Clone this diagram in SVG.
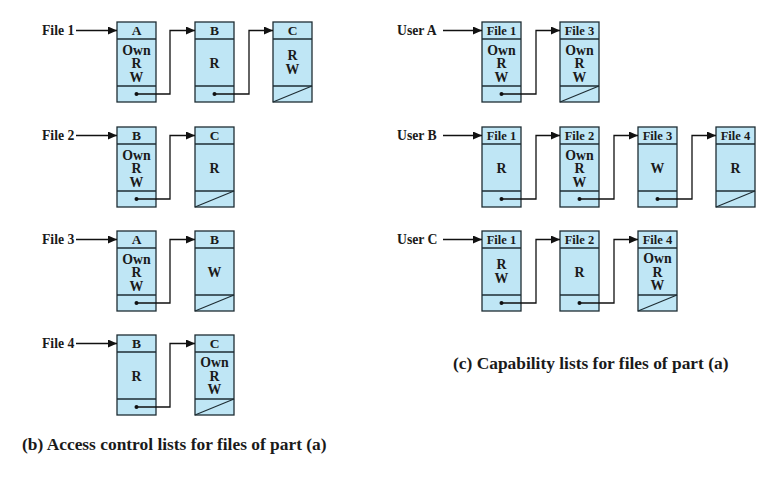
<svg xmlns="http://www.w3.org/2000/svg" width="783" height="480" viewBox="0 0 783 480">
<style>
text{font-family:"Liberation Serif","Times New Roman",serif;font-weight:bold;fill:#1a1a1a}
.b{fill:#bfe6f5;stroke:#1e2d33;stroke-width:1.3}
.s{fill:none;stroke:#1e2d33;stroke-width:1.3}
.c{fill:none;stroke:#111;stroke-width:1.3}
.t{font-size:13.8px;text-anchor:middle}
.h{font-size:13.5px;text-anchor:middle}
.hf{font-size:12.5px;text-anchor:middle}
.l{font-size:13.7px}
.cap{font-size:17.4px}
.d{fill:#111}
</style>
<defs>
<marker id="ah" markerUnits="userSpaceOnUse" markerWidth="10" markerHeight="8" refX="9" refY="4" orient="auto">
<path d="M0,0 L9,4 L0,8 Z" fill="#111"/>
</marker>
<g id="box">
<rect class="b" x="0" y="0" width="39" height="80"/>
<line class="s" x1="0" y1="17" x2="39" y2="17"/>
<line class="s" x1="0" y1="64" x2="39" y2="64"/>
</g>
<line id="end" class="s" x1="0" y1="80" x2="39" y2="64"/>
</defs>

<!-- labels -->
<g id="labels">
<text class="l" x="42" y="35">File 1</text>
<text class="l" x="42" y="140">File 2</text>
<text class="l" x="42" y="244">File 3</text>
<text class="l" x="42" y="348">File 4</text>
<text class="l" x="397" y="35">User A</text>
<text class="l" x="397" y="140">User B</text>
<text class="l" x="397" y="244">User C</text>
</g>

<!-- part b row 1 -->
<g id="b1A" transform="translate(117,22)"><use href="#box"/><text class="h" x="19.5" y="13">A</text><text class="t" x="19.5" y="32.5">Own</text><text class="t" x="19.5" y="46">R</text><text class="t" x="19.5" y="59.5">W</text><circle class="d" cx="19.5" cy="72" r="2"/></g>
<g id="b1B" transform="translate(195,22)"><use href="#box"/><text class="h" x="19.5" y="13">B</text><text class="t" x="19.5" y="46">R</text><circle class="d" cx="19.5" cy="72" r="2"/></g>
<g id="b1C" transform="translate(273,22)"><use href="#box"/><text class="h" x="19.5" y="13">C</text><text class="t" x="19.5" y="38">R</text><text class="t" x="19.5" y="52">W</text><use href="#end"/></g>
<!-- part b row 2 -->
<g id="b2B" transform="translate(117,127)"><use href="#box"/><text class="h" x="19.5" y="13">B</text><text class="t" x="19.5" y="32.5">Own</text><text class="t" x="19.5" y="46">R</text><text class="t" x="19.5" y="59.5">W</text><circle class="d" cx="19.5" cy="72" r="2"/></g>
<g id="b2C" transform="translate(195,127)"><use href="#box"/><text class="h" x="19.5" y="13">C</text><text class="t" x="19.5" y="46">R</text><use href="#end"/></g>
<!-- part b row 3 -->
<g id="b3A" transform="translate(117,231)"><use href="#box"/><text class="h" x="19.5" y="13">A</text><text class="t" x="19.5" y="32.5">Own</text><text class="t" x="19.5" y="46">R</text><text class="t" x="19.5" y="59.5">W</text><circle class="d" cx="19.5" cy="72" r="2"/></g>
<g id="b3B" transform="translate(195,231)"><use href="#box"/><text class="h" x="19.5" y="13">B</text><text class="t" x="19.5" y="46">W</text><use href="#end"/></g>
<!-- part b row 4 -->
<g id="b4B" transform="translate(117,335)"><use href="#box"/><text class="h" x="19.5" y="13">B</text><text class="t" x="19.5" y="46">R</text><circle class="d" cx="19.5" cy="72" r="2"/></g>
<g id="b4C" transform="translate(195,335)"><use href="#box"/><text class="h" x="19.5" y="13">C</text><text class="t" x="19.5" y="32">Own</text><text class="t" x="19.5" y="45.5">R</text><text class="t" x="19.5" y="59">W</text><use href="#end"/></g>

<!-- part c row A -->
<g id="cA1" transform="translate(482,22)"><use href="#box"/><text class="hf" x="19.5" y="13">File 1</text><text class="t" x="19.5" y="32.5">Own</text><text class="t" x="19.5" y="46">R</text><text class="t" x="19.5" y="59.5">W</text><circle class="d" cx="19.5" cy="72" r="2"/></g>
<g id="cA3" transform="translate(560,22)"><use href="#box"/><text class="hf" x="19.5" y="13">File 3</text><text class="t" x="19.5" y="32.5">Own</text><text class="t" x="19.5" y="46">R</text><text class="t" x="19.5" y="59.5">W</text><use href="#end"/></g>
<!-- part c row B -->
<g id="cB1" transform="translate(482,127)"><use href="#box"/><text class="hf" x="19.5" y="13">File 1</text><text class="t" x="19.5" y="46">R</text><circle class="d" cx="19.5" cy="72" r="2"/></g>
<g id="cB2" transform="translate(560,127)"><use href="#box"/><text class="hf" x="19.5" y="13">File 2</text><text class="t" x="19.5" y="32.5">Own</text><text class="t" x="19.5" y="46">R</text><text class="t" x="19.5" y="59.5">W</text><circle class="d" cx="19.5" cy="72" r="2"/></g>
<g id="cB3" transform="translate(638,127)"><use href="#box"/><text class="hf" x="19.5" y="13">File 3</text><text class="t" x="19.5" y="46">W</text><circle class="d" cx="19.5" cy="72" r="2"/></g>
<g id="cB4" transform="translate(716,127)"><use href="#box"/><text class="hf" x="19.5" y="13">File 4</text><text class="t" x="19.5" y="46">R</text><use href="#end"/></g>
<!-- part c row C -->
<g id="cC1" transform="translate(482,231)"><use href="#box"/><text class="hf" x="19.5" y="13">File 1</text><text class="t" x="19.5" y="38">R</text><text class="t" x="19.5" y="52">W</text><circle class="d" cx="19.5" cy="72" r="2"/></g>
<g id="cC2" transform="translate(560,231)"><use href="#box"/><text class="hf" x="19.5" y="13">File 2</text><text class="t" x="19.5" y="46">R</text><circle class="d" cx="19.5" cy="72" r="2"/></g>
<g id="cC4" transform="translate(638,231)"><use href="#box"/><text class="hf" x="19.5" y="13">File 4</text><text class="t" x="19.5" y="32">Own</text><text class="t" x="19.5" y="45.5">R</text><text class="t" x="19.5" y="59">W</text><use href="#end"/></g>

<g id="connectors">
<!-- part b -->
<line class="c" x1="76" y1="30.5" x2="117" y2="30.5" marker-end="url(#ah)"/>
<path class="c" d="M136.5,94 H170 V30.5 H195" marker-end="url(#ah)"/>
<path class="c" d="M214.5,94 H249 V30.5 H273" marker-end="url(#ah)"/>
<line class="c" x1="76" y1="135.5" x2="117" y2="135.5" marker-end="url(#ah)"/>
<path class="c" d="M136.5,199 H170 V135.5 H195" marker-end="url(#ah)"/>
<line class="c" x1="76" y1="239.5" x2="117" y2="239.5" marker-end="url(#ah)"/>
<path class="c" d="M136.5,303 H170 V239.5 H195" marker-end="url(#ah)"/>
<line class="c" x1="76" y1="343.5" x2="117" y2="343.5" marker-end="url(#ah)"/>
<path class="c" d="M136.5,407 H170 V343.5 H195" marker-end="url(#ah)"/>
<!-- part c -->
<line class="c" x1="443" y1="30.5" x2="482" y2="30.5" marker-end="url(#ah)"/>
<path class="c" d="M501.5,94 H536 V30.5 H560" marker-end="url(#ah)"/>
<line class="c" x1="443" y1="135.5" x2="482" y2="135.5" marker-end="url(#ah)"/>
<path class="c" d="M501.5,199 H536 V135.5 H560" marker-end="url(#ah)"/>
<path class="c" d="M579.5,199 H614 V135.5 H638" marker-end="url(#ah)"/>
<path class="c" d="M657.5,199 H692 V135.5 H716" marker-end="url(#ah)"/>
<line class="c" x1="443" y1="239.5" x2="482" y2="239.5" marker-end="url(#ah)"/>
<path class="c" d="M501.5,303 H536 V239.5 H560" marker-end="url(#ah)"/>
<path class="c" d="M579.5,303 H614 V239.5 H638" marker-end="url(#ah)"/>
</g>

<text class="cap" x="22" y="450">(b) Access control lists for files of part (a)</text>
<text class="cap" x="453" y="369">(c) Capability lists for files of part (a)</text>
</svg>
